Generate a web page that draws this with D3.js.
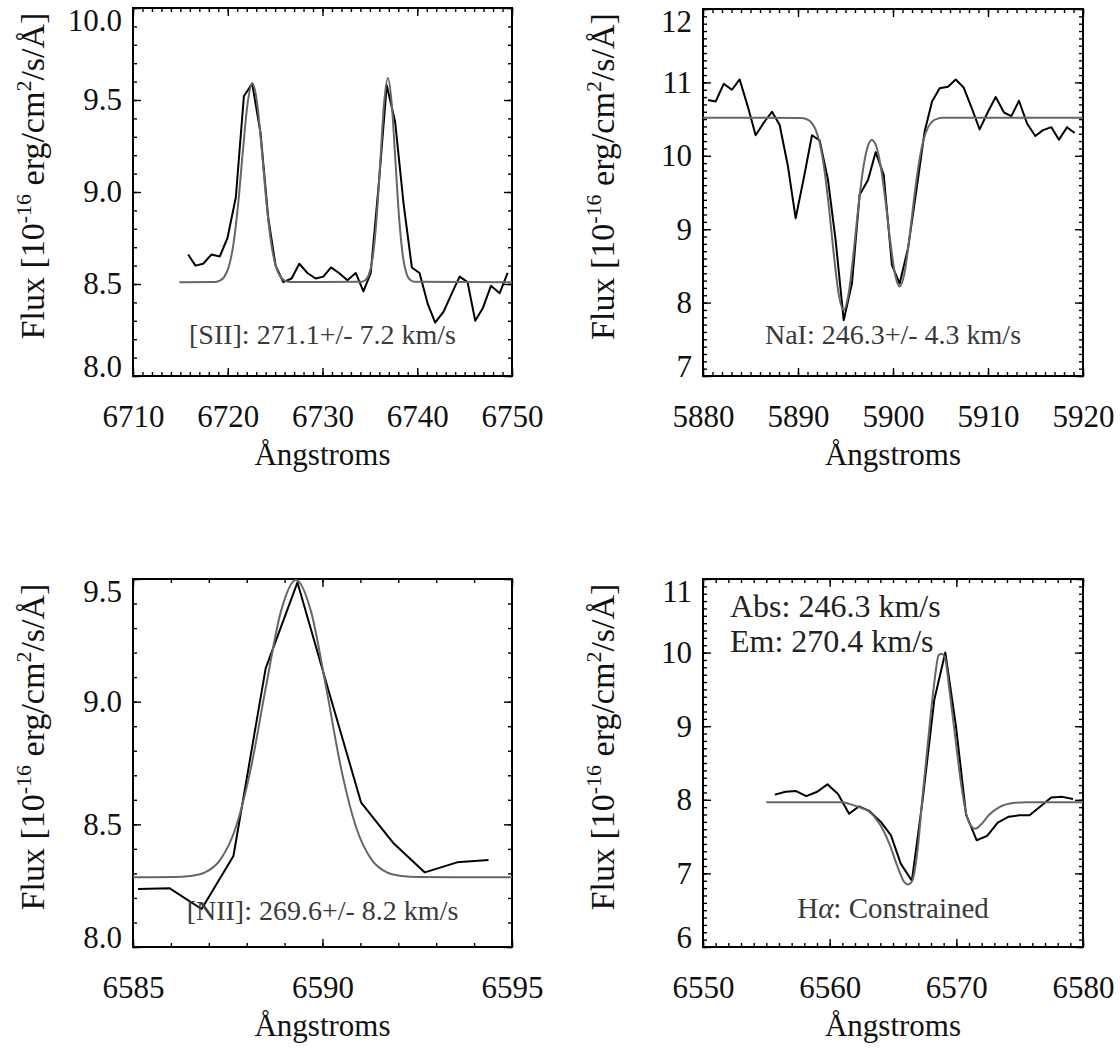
<!doctype html>
<html lang="en">
<head>
<meta charset="utf-8">
<title>Line fits</title>
<script src="https://cdn.jsdelivr.net/npm/d3@7"></script>
<style>
  body { margin: 0; background: #fff; }
  svg text { font-family: "Liberation Serif", "Times New Roman", serif; }
</style>
</head>
<body>
<script>

// [SII] doublet
const siiWave = [6715.82, 6716.59, 6717.40, 6718.28, 6719.16, 6719.97, 6720.85, 6721.70, 6722.58, 6723.46,
    6724.27, 6725.05, 6725.86, 6726.74, 6727.55, 6728.40, 6729.28, 6730.09, 6730.90, 6731.74,
    6732.63, 6733.51, 6734.32, 6735.09, 6735.97, 6736.78, 6737.67, 6738.55, 6739.43, 6740.24,
    6741.12, 6741.89, 6742.78, 6743.66, 6744.47, 6745.31, 6746.12, 6746.93, 6747.78, 6748.70, 6749.54]
const siiFlux = [8.66, 8.60, 8.61, 8.66, 8.65, 8.75, 8.97, 9.52, 9.59, 9.32,
    8.86, 8.60, 8.51, 8.53, 8.61, 8.56, 8.53, 8.54, 8.59, 8.56,
    8.52, 8.56, 8.46, 8.56, 9.06, 9.58, 9.38, 8.94, 8.59, 8.56,
    8.39, 8.29, 8.35, 8.45, 8.54, 8.51, 8.30, 8.37, 8.49, 8.45, 8.56]
const siiFitWave = [6714.9, 6718.6, 6719.1, 6719.6, 6720.1, 6720.6, 6721.1, 6721.6, 6722.1, 6722.6,
    6723.1, 6723.6, 6724.1, 6724.6, 6725.1, 6725.6, 6726.1, 6726.6,
    6734.1, 6734.5, 6734.9, 6735.3, 6735.7, 6736.1, 6736.5, 6736.9, 6737.3, 6737.7,
    6738.1, 6738.5, 6738.9, 6739.3, 6739.7, 6750]
const siiFitFlux = [8.51, 8.511, 8.517, 8.536, 8.592, 8.717, 8.936, 9.225, 9.484, 9.59,
    9.484, 9.225, 8.936, 8.717, 8.592, 8.536, 8.517, 8.511,
    8.512, 8.520, 8.551, 8.645, 8.850, 9.166, 9.483, 9.62, 9.483, 9.166,
    8.850, 8.645, 8.551, 8.520, 8.512, 8.51]
const siiXTicks = [6710, 6720, 6730, 6740, 6750]
const siiYTicks = [8.0, 8.5, 9.0, 9.5, 10.0]

// NaI D doublet
const naiWave = [5880.53, 5881.33, 5882.18, 5883.05, 5883.86, 5884.74, 5885.54, 5886.39, 5887.26, 5888.07,
    5888.95, 5889.75, 5890.63, 5891.47, 5892.28, 5893.16, 5893.96, 5894.81, 5895.68, 5896.49,
    5897.37, 5898.18, 5899.02, 5899.89, 5900.70, 5901.58, 5902.46, 5903.33, 5904.11, 5904.91,
    5905.79, 5906.60, 5907.44, 5908.32, 5909.12, 5910.00, 5910.81, 5911.68, 5912.46, 5913.26,
    5914.11, 5914.98, 5915.79, 5916.67, 5917.47, 5918.32, 5919.12]
const naiFlux = [10.76, 10.74, 10.98, 10.90, 11.04, 10.66, 10.28, 10.45, 10.60, 10.42,
    9.85, 9.15, 9.71, 10.28, 10.21, 9.67, 8.85, 7.76, 8.26, 9.47,
    9.67, 10.05, 9.74, 8.51, 8.26, 8.74, 9.53, 10.33, 10.74, 10.92,
    10.94, 11.04, 10.93, 10.64, 10.36, 10.60, 10.80, 10.59, 10.54, 10.75,
    10.44, 10.27, 10.35, 10.39, 10.22, 10.39, 10.31]
const naiFitWave = [5880, 5890.3, 5890.8, 5891.3, 5891.8, 5892.3, 5892.8, 5893.3, 5893.8, 5894.3,
    5894.8, 5895.3, 5895.8, 5896.3, 5896.8, 5897.3, 5897.75, 5898.2, 5898.7, 5899.2,
    5899.7, 5900.2, 5900.7, 5901.2, 5901.7, 5902.2, 5902.7, 5903.2, 5903.7, 5904.2,
    5904.7, 5905.2, 5920]
const naiFitFlux = [10.52, 10.516, 10.504, 10.468, 10.373, 10.166, 9.792, 9.244, 8.618, 8.102,
    7.90, 8.102, 8.617, 9.239, 9.774, 10.109, 10.216, 10.144, 9.861, 9.395,
    8.849, 8.397, 8.22, 8.397, 8.85, 9.40, 9.881, 10.21, 10.391, 10.475,
    10.506, 10.517, 10.52]
const naiXTicks = [5880, 5890, 5900, 5910, 5920]
const naiYTicks = [7, 8, 9, 10, 11, 12]

// [NII] 6583
const niiWave = [6585.13, 6585.97, 6586.81, 6587.65, 6588.50, 6589.34, 6590.18, 6591.02, 6591.86, 6592.70, 6593.55, 6594.38]
const niiFlux = [8.236, 8.239, 8.155, 8.371, 9.136, 9.486, 9.034, 8.588, 8.425, 8.304, 8.345, 8.355]
const niiFitWave = [6585, 6586.1, 6586.5, 6586.9, 6587.3, 6587.7, 6588.1, 6588.5, 6588.9, 6589.3,
    6589.7, 6590.1, 6590.5, 6590.9, 6591.3, 6591.7, 6592.1, 6592.5, 6595]
const niiFitFlux = [8.284, 8.285, 8.289, 8.304, 8.355, 8.482, 8.721, 9.054, 9.366, 9.496,
    9.366, 9.054, 8.721, 8.482, 8.355, 8.304, 8.289, 8.285, 8.284]
const niiXTicks = [6585, 6590, 6595]
const niiYTicks = [8.0, 8.5, 9.0, 9.5]

// H-alpha
const haWave = [6555.67, 6556.52, 6557.31, 6558.15, 6559.02, 6559.82, 6560.66, 6561.53, 6562.32, 6563.11,
    6564.04, 6564.83, 6565.62, 6566.49, 6567.34, 6568.26, 6569.13, 6569.97, 6570.77, 6571.61,
    6572.43, 6573.27, 6574.14, 6574.99, 6575.78, 6576.70, 6577.49, 6578.36, 6579.21]
const haFlux = [8.07, 8.11, 8.12, 8.05, 8.11, 8.21, 8.08, 7.81, 7.91, 7.85,
    7.70, 7.52, 7.13, 6.90, 8.00, 9.36, 10.0, 9.0, 7.80, 7.45,
    7.51, 7.69, 7.77, 7.79, 7.79, 7.92, 8.03, 8.04, 8.01]
const haFitWave = [6555.0, 6561.0, 6561.53, 6562.32, 6563.11, 6563.91, 6564.70, 6565.36, 6565.88, 6566.20,
    6566.54, 6566.94, 6567.33, 6567.86, 6568.26, 6568.60, 6568.84, 6569.10, 6569.45, 6569.97,
    6570.37, 6570.77, 6571.16, 6571.48, 6571.95, 6572.61, 6573.40, 6574.46, 6575.51, 6580.0]
const haFitFlux = [7.968, 7.968, 7.945, 7.900, 7.841, 7.682, 7.409, 7.091, 6.886, 6.850,
    6.909, 7.318, 8.045, 8.955, 9.591, 9.964, 9.986, 9.932, 9.50, 8.773,
    8.227, 7.818, 7.645, 7.605, 7.664, 7.80, 7.90, 7.955, 7.968, 7.968]
const haXTicks = [6550, 6560, 6570, 6580]
const haYTicks = [6, 7, 8, 9, 10, 11]

const width = 1120, height = 1050
const serif = '"Liberation Serif", "Times New Roman", serif'

const panels = [
    {wave: siiWave, flux: siiFlux, fitWave: siiFitWave, fitFlux: siiFitFlux, xTicks: siiXTicks, yTicks: siiYTicks,
        yFormat: '.1f', box: [133, 8, 512, 376], note: '[SII]: 271.1+/- 7.2 km/s', noteY: 344, noteSize: 28},
    {wave: naiWave, flux: naiFlux, fitWave: naiFitWave, fitFlux: naiFitFlux, xTicks: naiXTicks, yTicks: naiYTicks,
        yFormat: 'd', box: [703, 9, 1083, 376], note: 'NaI: 246.3+/- 4.3 km/s', noteY: 344, noteSize: 28},
    {wave: niiWave, flux: niiFlux, fitWave: niiFitWave, fitFlux: niiFitFlux, xTicks: niiXTicks, yTicks: niiYTicks,
        yFormat: '.1f', box: [133, 579, 512, 947], note: '[NII]: 269.6+/- 8.2 km/s', noteY: 920, noteSize: 28},
    {wave: haWave, flux: haFlux, fitWave: haFitWave, fitFlux: haFitFlux, xTicks: haXTicks, yTicks: haYTicks,
        yFormat: 'd', box: [703, 579, 1083, 947], note: 'H<tspan font-style="italic">α</tspan>: Constrained', noteY: 918, noteSize: 29}
]

const svg = d3.select('body').append('svg')
    .attr('width', width)
    .attr('height', height)
    .attr('font-family', serif)

const drawPanel = (p) => {
    const [left, top, right, bottom] = p.box
    const x = d3.scaleLinear().domain(d3.extent(p.xTicks)).range([left, right])
    const y = d3.scaleLinear().domain(d3.extent(p.yTicks)).range([bottom, top])
    const g = svg.append('g')

    const [x0, x1] = x.domain()
    const [y0, y1] = y.domain()
    const xMinor = d3.range(0, Math.round(x1 - x0) + 1).map(i => x0 + i)
    const yMinor = d3.range(0, Math.round((y1 - y0) * 10) + 1).map(i => y0 + i / 10)

    const addAxis = (axis, tx, ty) => g.append('g')
        .attr('transform', `translate(${tx},${ty})`)
        .call(axis)
        .attr('font-family', serif)
        .call(s => s.select('.domain').remove())
        .call(s => s.selectAll('line').attr('stroke', '#000').attr('stroke-width', 1.4))
        .call(s => s.selectAll('text').attr('font-size', 31).attr('fill', '#111').attr('font-family', serif))

    addAxis(d3.axisBottom(x).tickValues(xMinor).tickSize(-4).tickFormat(''), 0, bottom)
    addAxis(d3.axisTop(x).tickValues(xMinor).tickSize(-4).tickFormat(''), 0, top)
    addAxis(d3.axisLeft(y).tickValues(yMinor).tickSize(-4).tickFormat(''), left, 0)
    addAxis(d3.axisRight(y).tickValues(yMinor).tickSize(-4).tickFormat(''), right, 0)

    addAxis(d3.axisBottom(x).tickValues(p.xTicks).tickSize(-8).tickPadding(29).tickFormat(d3.format('d')), 0, bottom)
    addAxis(d3.axisTop(x).tickValues(p.xTicks).tickSize(-8).tickFormat(''), 0, top)
    const yAxis = addAxis(d3.axisLeft(y).tickValues(p.yTicks).tickSize(-8).tickPadding(11).tickFormat(d3.format(p.yFormat)), left, 0)
    addAxis(d3.axisRight(y).tickValues(p.yTicks).tickSize(-8).tickFormat(''), right, 0)

    // end labels sit inside the frame
    yAxis.selectAll('text')
        .attr('y', d => Math.min(Math.max(y(d), top + 13), bottom - 9) - y(d))

    g.append('rect')
        .attr('x', left)
        .attr('y', top)
        .attr('width', right - left)
        .attr('height', bottom - top)
        .attr('fill', 'none')
        .attr('stroke', '#000')
        .attr('stroke-width', 2)

    const dataLine = d3.line().x(d => x(d[0])).y(d => y(d[1]))
    const fitLine = d3.line().curve(d3.curveMonotoneX).x(d => x(d[0])).y(d => y(d[1]))

    g.append('path')
        .attr('d', dataLine(d3.zip(p.wave, p.flux)))
        .attr('fill', 'none')
        .attr('stroke', '#000')
        .attr('stroke-width', 2)
        .attr('stroke-linejoin', 'round')

    g.append('path')
        .attr('d', fitLine(d3.zip(p.fitWave, p.fitFlux)))
        .attr('fill', 'none')
        .attr('stroke', '#666')
        .attr('stroke-width', 2)

    g.append('text')
        .attr('x', (left + right) / 2)
        .attr('y', bottom + 89)
        .attr('text-anchor', 'middle')
        .attr('font-size', 31)
        .attr('fill', '#111')
        .text('Ångstroms')

    const yTitle = g.append('text')
        .attr('transform', `translate(${left - 89},${(top + bottom) / 2 - 16}) rotate(-90)`)
        .attr('text-anchor', 'middle')
        .attr('font-size', 34)
        .attr('fill', '#111')
    yTitle.append('tspan').text('Flux [10')
    yTitle.append('tspan').attr('font-size', 22).attr('dy', -13).text('-16')
    yTitle.append('tspan').attr('dy', 13).text(' erg/cm')
    yTitle.append('tspan').attr('font-size', 22).attr('dy', -13).text('2')
    yTitle.append('tspan').attr('dy', 13).text('/s/Å]')

    g.append('text')
        .attr('x', (left + right) / 2)
        .attr('y', p.noteY)
        .attr('text-anchor', 'middle')
        .attr('font-size', p.noteSize)
        .attr('fill', '#3a3a3a')
        .html(p.note)
}

panels.forEach(drawPanel)

svg.append('text')
    .attr('x', 730)
    .attr('y', 617)
    .attr('font-size', 32)
    .attr('fill', '#222')
    .text('Abs: 246.3 km/s')

svg.append('text')
    .attr('x', 730)
    .attr('y', 652)
    .attr('font-size', 32)
    .attr('fill', '#222')
    .text('Em: 270.4 km/s')

</script>
</body>
</html>
